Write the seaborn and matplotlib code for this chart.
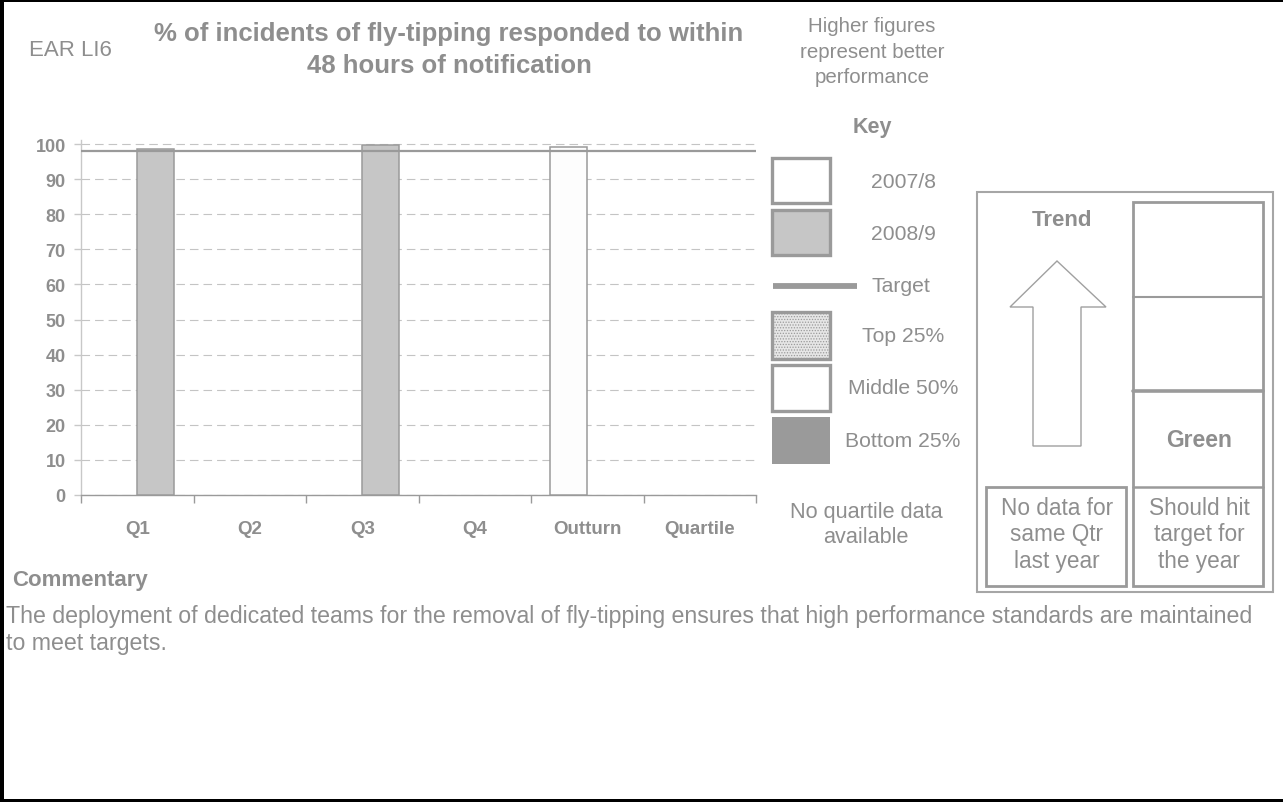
import matplotlib
matplotlib.use("Agg")
import matplotlib.pyplot as plt
from matplotlib.patches import Rectangle, Polygon
from matplotlib.ticker import FixedLocator
import pandas as pd
import seaborn as sns

# ---- data -------------------------------------------------------------
categories = ["Q1", "Q2", "Q3", "Q4", "Outturn", "Quartile"]
series_names = ["2007/8", "2008/9"]
values_2007_8 = [None, None, None, None, 99.1, None]
values_2008_9 = [98.6, None, 99.7, None, None, None]
target_value = 98.0
y_ticks = list(range(0, 101, 10))

title_text = "% of incidents of fly-tipping responded to within\n48 hours of notification"
indicator_code = "EAR LI6"
direction_note = "Higher figures\nrepresent better\nperformance"
key_labels = ["2007/8", "2008/9", "Target", "Top 25%", "Middle 50%", "Bottom 25%"]
quartile_note = "No quartile data\navailable"
trend_note = "No data for\nsame Qtr\nlast year"
status_label = "Green"
status_note = "Should hit\ntarget for\nthe year"
commentary_title = "Commentary"
commentary_lines = [
    "The deployment of dedicated teams for the removal of fly-tipping ensures that high performance standards are maintained",
    "to meet targets.",
]

rows = []
for name, vals in zip(series_names, [values_2007_8, values_2008_9]):
    for cat, v in zip(categories, vals):
        if v is not None:
            rows.append({"period": cat, "series": name, "value": v})
df = pd.DataFrame(rows)

# ---- style ------------------------------------------------------------
W, H = 1283, 803
sns.set_theme(style="white")
plt.rcParams["font.family"] = ["Liberation Sans", "DejaVu Sans"]
plt.rcParams["hatch.linewidth"] = 0.6

TXT = "#8e8e8e"
EDGE = "#9a9a9a"
GRID = "#c4c4c4"
FILL_0708 = "#fdfdfd"
FILL_0809 = "#c6c6c6"

fig = plt.figure(figsize=(W / 100, H / 100), dpi=100)
fig.patch.set_facecolor("white")

# full-figure layer in pixel units for the key, the status panel and text
ov = fig.add_axes([0, 0, 1, 1], zorder=0)
ov.set_xlim(0, W)
ov.set_ylim(H, 0)
ov.axis("off")

# ---- chart ------------------------------------------------------------
ppu = (496 - 145) / 100.0
y_top = 101
ax = fig.add_axes([81 / W, 1 - 496 / H, (756 - 81) / W, (y_top * ppu) / H], zorder=1)
ax.patch.set_alpha(0)

sns.barplot(
    data=df, x="period", y="value", hue="series",
    order=categories, hue_order=series_names,
    palette={"2007/8": FILL_0708, "2008/9": FILL_0809},
    width=0.66, dodge=True, edgecolor=EDGE, linewidth=1.1,
    errorbar=None, legend=False, ax=ax, zorder=3,
)
ax.axhline(target_value, color=EDGE, lw=1.6, zorder=4)

ax.set_xlim(-0.5, len(categories) - 0.5)
ax.set_ylim(0, y_top)
ax.set_yticks(y_ticks)
ax.yaxis.grid(True, linestyle=(0, (7.7, 4.5)), color=GRID, lw=0.8)
ax.xaxis.grid(False)
ax.set_axisbelow(True)
ax.set_xlabel("")
ax.set_ylabel("")

for side in ("top", "right"):
    ax.spines[side].set_visible(False)
ax.spines["left"].set_color("#c8c8c8")
ax.spines["left"].set_linewidth(1.0)
ax.spines["bottom"].set_color(EDGE)
ax.spines["bottom"].set_linewidth(1.0)

ax.tick_params(axis="y", length=5, width=1, color="#c8c8c8", direction="out",
               pad=6, labelsize=13, labelcolor=TXT, left=True)
ax.tick_params(axis="x", which="major", length=0, pad=18, labelsize=13.5, labelcolor=TXT)
ax.xaxis.set_minor_locator(FixedLocator([i - 0.5 for i in range(len(categories) + 1)]))
ax.tick_params(axis="x", which="minor", length=6, width=1, color=EDGE, direction="out", bottom=True)
for lbl in ax.get_yticklabels() + ax.get_xticklabels():
    lbl.set_fontweight("bold")

# ---- headings ---------------------------------------------------------
ov.text(449, 50, title_text, ha="center", va="center", fontsize=18.5,
        fontweight="bold", color=TXT, linespacing=1.45)
ov.text(29, 51, indicator_code, ha="left", va="center", fontsize=16, color=TXT)
ov.text(872, 52, direction_note, ha="center", va="center", fontsize=14.8,
        color=TXT, linespacing=1.45)
ov.text(872, 128, "Key", ha="center", va="center", fontsize=15.5,
        fontweight="bold", color=TXT)

# ---- key --------------------------------------------------------------
sw_x, sw_w = 772, 58
ov.add_patch(Rectangle((sw_x, 159), sw_w, 45, fc="white", ec=EDGE, lw=2.4))
ov.add_patch(Rectangle((sw_x, 211), sw_w, 45, fc=FILL_0809, ec=EDGE, lw=2.4))
ov.plot([773, 857], [287, 287], color=EDGE, lw=4.2, solid_capstyle="butt")
ov.add_patch(Rectangle((sw_x, 313), sw_w, 47, fc="#e6e6e6", ec=EDGE, lw=0, hatch="......"))
ov.add_patch(Rectangle((sw_x, 313), sw_w, 47, fc="none", ec=EDGE, lw=2.4))
ov.add_patch(Rectangle((sw_x, 366), sw_w, 46, fc="white", ec=EDGE, lw=2.4))
ov.add_patch(Rectangle((sw_x, 418), sw_w, 47, fc=EDGE, ec="none", lw=0))

key_y = [182, 234, 287, 337, 389, 442]
key_x = [903, 903, 901, 903, 903, 903]
for lab, kx, ky in zip(key_labels, key_x, key_y):
    ov.text(kx, ky, lab, ha="center", va="center", fontsize=15.2, color=TXT)

ov.text(866, 525, quartile_note, ha="center", va="center", fontsize=15.6,
        color=TXT, linespacing=1.3)

# ---- status panel -----------------------------------------------------
ov.add_patch(Rectangle((977, 193), 296, 400, fc="none", ec="#a6a6a6", lw=1.5))
ov.add_patch(Rectangle((1133, 203), 130, 384, fc="none", ec=EDGE, lw=2.0))
ov.plot([1133, 1263], [298, 298], color=EDGE, lw=1.5)
ov.plot([1133, 1263], [392, 392], color=EDGE, lw=2.6)
ov.plot([1133, 1263], [488, 488], color=EDGE, lw=1.8)
ov.add_patch(Rectangle((986, 488), 140, 99, fc="none", ec=EDGE, lw=2.0))

arrow = Polygon([(1057, 262), (1106, 308), (1081, 308), (1081, 447),
                 (1033, 447), (1033, 308), (1010, 308)],
                closed=True, fc="white", ec="#a0a0a0", lw=1.0)
ov.add_patch(arrow)

ov.text(1062, 220, "Trend", ha="center", va="center", fontsize=16,
        fontweight="bold", color=TXT)
ov.text(1199, 441, status_label, ha="center", va="center", fontsize=16.5,
        fontweight="bold", color=TXT)
ov.text(1057, 535, trend_note, ha="center", va="center", fontsize=16.3,
        color=TXT, linespacing=1.18)
ov.text(1199, 535, status_note, ha="center", va="center", fontsize=16.3,
        color=TXT, linespacing=1.18)

# ---- commentary -------------------------------------------------------
ov.text(12, 581, commentary_title, ha="left", va="center", fontsize=16,
        fontweight="bold", color=TXT)
ov.text(6, 617, commentary_lines[0], ha="left", va="center", fontsize=16.7, color=TXT)
ov.text(6, 644, commentary_lines[1], ha="left", va="center", fontsize=16.7, color=TXT)

# ---- page frame (left, top, bottom) ----------------------------------
ov.add_patch(Rectangle((0, 0), 4, H, fc="black", ec="none"))
ov.add_patch(Rectangle((0, 0), W, 3.3, fc="black", ec="none"))
ov.add_patch(Rectangle((0, H - 3), W, 3, fc="black", ec="none"))

fig.savefig("out.png", dpi=100, facecolor="white")
